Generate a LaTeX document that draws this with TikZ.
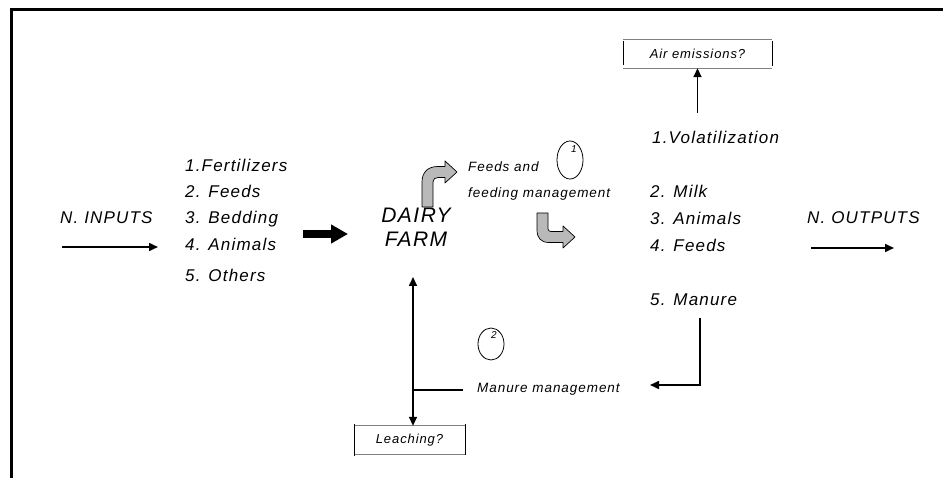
\documentclass[tikz,border=0pt]{standalone}
\usepackage{fontspec}
\newfontfamily\farmfont[LetterSpace=7]{Liberation Sans}
\usetikzlibrary{arrows.meta,shapes.geometric}

\tikzset{
  bigtext/.style={font=\farmfont\itshape\fontsize{17}{20}\selectfont, inner sep=0pt, anchor=base west},
  farmtext/.style={font=\farmfont\itshape\fontsize{21}{24}\selectfont, inner sep=0pt, anchor=base},
  smalltext/.style={font=\farmfont\itshape\fontsize{13.5}{16}\selectfont, inner sep=0pt, anchor=base west},
  boxtext/.style={font=\farmfont\itshape\fontsize{13}{15}\selectfont, inner sep=0pt, minimum height=28pt},
  ringnode/.style={draw, ellipse, line width=0.8pt, inner sep=0pt},
  ringnum/.style={font=\farmfont\itshape\fontsize{10}{12}\selectfont, inner sep=0pt},
  flow/.style={-{Triangle[length=9pt,width=8pt]}, line width=1.6pt},
  turnarrow/.style={fill=gray!55, draw=black, line width=0.7pt, line join=round},
}

\begin{document}
\begin{tikzpicture}[x=1pt, y=-1pt]
	\useasboundingbox (0,0) rectangle (943,478);

	% frame
	\draw[line width=2.7pt, line join=miter] (11.3,478) -- (11.3,9.7) -- (943,9.7);

	% inputs
	\node[bigtext] (ninputs) at (60,224) {N. INPUTS};
	\coordinate (inL) at (62,247);
	\coordinate (inR) at (158,247);
	\draw[flow] (inL) -- (inR);

	\node[bigtext] (fert) at (185,172) {1.Fertilizers};
	\node[bigtext] (feeds) at (185,198) {2. Feeds};
	\node[bigtext] (bedding) at (185,224) {3. Bedding};
	\node[bigtext] (animals) at (185,251) {4. Animals};
	\node[bigtext] (others) at (185,282) {5. Others};

	\coordinate (bulkL) at (303,234);
	\coordinate (bulkR) at (348,234);
	\draw[line width=8.5pt, -{Triangle[length=17pt,width=18pt]}] (bulkL) -- (bulkR);

	% farm
	\node[farmtext] (dairy) at (416,223) {DAIRY};
	\node[farmtext] (farm) at (416,247) {FARM};

	% feeds and feeding management
	\draw[turnarrow] (422,207) -- (422,182) .. controls (422,172) and (428,166.5) .. (438,166.5)
		-- (445,166.5) -- (445,161) -- (457,172) -- (445,183) -- (445,177.5) -- (438,177.5)
		.. controls (435,177.5) and (433,179) .. (433,182) -- (433,207) -- cycle;
	\node[smalltext] (feedsand) at (468,172) {Feeds and};
	\node[smalltext] (feeding) at (468,198) {feeding management};
	\node[ringnode, minimum width=26pt, minimum height=38pt] (ring1) at (570,160) {};
	\node[ringnum] (num1) at (574,149) {1};
	\draw[turnarrow] (537,213) -- (537,230) .. controls (537,238) and (541,242.5) .. (549,242.5)
		-- (563,242.5) -- (563,248) -- (575,237) -- (563,226) -- (563,231.5) -- (551,231.5)
		.. controls (549.5,231.5) and (548,230.5) .. (548,229) -- (548,213) -- cycle;

	% outputs
	\node[bigtext] (volat) at (652,144) {1.Volatilization};
	\node[bigtext] (milk) at (650,198) {2. Milk};
	\node[bigtext] (animals2) at (650,225) {3. Animals};
	\node[bigtext] (feeds2) at (650,252) {4. Feeds};
	\node[bigtext] (manure) at (650,306) {5. Manure};

	\node[bigtext] (noutputs) at (807,224) {N. OUTPUTS};
	\coordinate (outL) at (811,248);
	\coordinate (outR) at (894,248);
	\draw[flow] (outL) -- (outR);

	% air emissions
	\node[boxtext, minimum width=149pt] (air) at (697.5,54) {Air emissions?};
	\draw[gray, line width=1pt] (air.north west) -- (air.north east);
	\draw[gray, line width=1pt] (air.south west) -- (air.south east);
	\draw[line width=0.6pt] ([yshift=-1pt]air.north west) -- ([yshift=3pt]air.south west);
	\draw[line width=0.6pt] ([yshift=-1pt]air.north east) -- ([yshift=2pt]air.south east);
	\coordinate (volup) at (697.5,113);
	\draw[flow] (volup) -- (air.south);

	% manure management
	\node[smalltext] (manmgmt) at (477,392) {Manure management};
	\node[ringnode, minimum width=26pt, minimum height=32pt] (ring2) at (491,344) {};
	\node[ringnum] (num2) at (494,335) {2};

	\coordinate (mandown) at (700,318);
	\coordinate (mancorner) at (700,385);
	\coordinate (manend) at (650,385);
	\draw[flow, line join=miter] (mandown) -- (mancorner) -- (manend);

	\node[boxtext, minimum width=111pt] (leach) at (409.5,440) {Leaching?};
	\draw[gray, line width=1pt] (leach.north west) -- (leach.north east);
	\draw[gray, line width=1pt] (leach.south west) -- (leach.south east);
	\draw[line width=0.6pt] ([yshift=2pt]leach.north west) -- ([yshift=-2pt]leach.south west);
	\draw[line width=0.6pt] ([yshift=2pt]leach.north east) -- ([yshift=-1pt]leach.south east);

	\coordinate (junc) at (413,390);
	\coordinate (farmup) at (413,277);
	\coordinate (mmleft) at (463,390);
	\draw[line width=1.6pt] (mmleft) -- (junc);
	\draw[flow] (junc) -- (farmup);
	\draw[flow] (junc) -- (junc |- leach.north);

\end{tikzpicture}
\end{document}
